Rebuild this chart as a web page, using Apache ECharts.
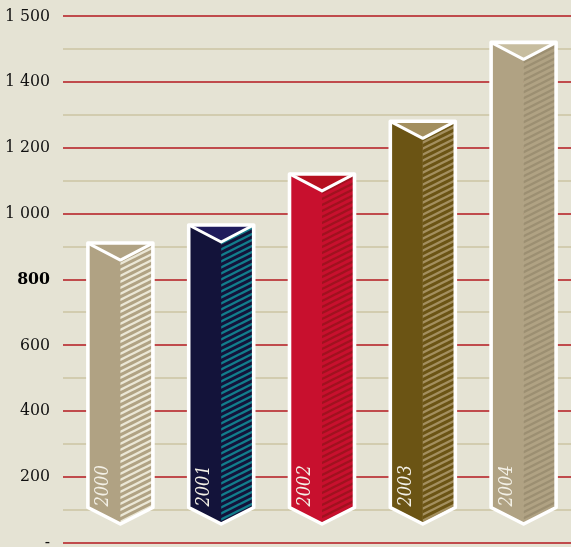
<!DOCTYPE html>
<html>
<head>
<meta charset="utf-8">
<script src="https://cdn.jsdelivr.net/npm/echarts@6/dist/echarts.min.js"></script>
<style>
  html, body { margin: 0; padding: 0; background: #e5e3d4; }
  #chart { width: 571px; height: 547px; }
</style>
</head>
<body>
<div id="chart"></div>
<script>
// Yearly totals, one prism per year
const years = ['2000', '2001', '2002', '2003', '2004'];
const values = [910, 965, 1120, 1280, 1520];

// Labels printed beside each 200-step gridline, bottom to top
const tickLabels = ['-', '200', '400', '600', '800', '1 000', '1 200', '1 400', '1 500'];

// Face colours per year: front, top, and the stripes on the shaded side
const frontColors = ['#b0a283', '#13133a', '#c8102e', '#6b5414', '#b0a283'];
const topColors = ['#b0a283', '#1f1b5c', '#b6101f', '#a38f5f', '#c7bd9f'];
const stripeColors = ['#ebe7d6', '#127d8c', '#a0121f', '#a38f5f', '#9c8f72'];

const labelFont = '"DejaVu Serif Condensed", "Liberation Serif", serif';

// Seamless diagonal stripe tile (period 6px vertically, slope 1:2)
function stripeTile(base, stripe) {
  const c = document.createElement('canvas');
  c.width = 12; c.height = 6;
  const g = c.getContext('2d');
  g.fillStyle = base;
  g.fillRect(0, 0, 12, 6);
  g.strokeStyle = stripe;
  g.lineWidth = 2.4;
  for (let k = -2; k <= 2; k++) {
    g.beginPath();
    g.moveTo(-4, 6 + 2 + 6 * k);
    g.lineTo(16, 6 - 8 + 6 * k);
    g.stroke();
  }
  return { image: c, repeat: 'repeat' };
}
const patterns = frontColors.map((c, i) => stripeTile(c, stripeColors[i]));

function renderPrism(params, api) {
  const i = api.value(0);
  const top = api.coord([i, api.value(1)]);
  const base = api.coord([i, 0]);
  const xc = top[0];
  const half = 32.5;
  const x0 = xc - half, x1 = xc + half;
  const yt = top[1];
  const yv = yt + 17;
  const yb = base[1] - 35;
  const ytip = base[1] - 18.5;
  return {
    type: 'group',
    children: [
      { type: 'polygon', shape: { points: [[xc - 0.5, yv], [x1, yt], [x1, yb], [xc - 0.5, ytip]] },
        style: { fill: patterns[i] } },
      { type: 'polygon', shape: { points: [[x0, yt], [xc, yv], [xc, ytip], [x0, yb]] },
        style: { fill: frontColors[i] } },
      { type: 'polygon', shape: { points: [[x0, yt], [x1, yt], [xc, yv]] },
        style: { fill: topColors[i] } },
      { type: 'polygon', shape: { points: [[x0, yt], [x1, yt], [x1, yb], [xc, ytip], [x0, yb]] },
        style: { fill: null, stroke: '#ffffff', lineWidth: 3.6, lineJoin: 'round' } },
      { type: 'polyline', shape: { points: [[x0, yt], [xc, yv], [x1, yt]] },
        style: { fill: null, stroke: '#ffffff', lineWidth: 3, lineJoin: 'round' } },
      { type: 'text', x: (x0 + xc) / 2 - 0.5, y: yb - 1, rotation: Math.PI / 2,
        style: { text: years[i], fill: '#f3f0e6', align: 'left', verticalAlign: 'middle',
          font: 'italic 18px ' + labelFont } }
    ]
  };
}

const chart = echarts.init(document.getElementById('chart'), null, { renderer: 'canvas' });
chart.setOption({
  backgroundColor: '#e5e3d4',
  animation: false,
  grid: [
    { left: 63, right: 0, top: 16, bottom: 4.5, containLabel: false, outerBoundsMode: 'none' },
    { left: 70, right: -3, top: 16, bottom: 4.5, containLabel: false, outerBoundsMode: 'none' }
  ],
  xAxis: [
    { gridIndex: 0, type: 'value', min: 0, max: 1, show: false },
    { gridIndex: 1, type: 'category', data: years, show: false }
  ],
  yAxis: [
    {
      gridIndex: 0, type: 'value', min: 0, max: 1600, interval: 200,
      axisLine: { show: false }, axisTick: { show: false },
      axisLabel: {
        margin: 13,
        fontFamily: labelFont, fontSize: 17.5, color: '#111',
        formatter: v => {
          const t = tickLabels[Math.round(v / 200)];
          return v === 800 ? '{b|' + t + '}' : t;
        },
        rich: { b: { fontFamily: labelFont, fontSize: 17.5, fontWeight: 'bold', color: '#000' } }
      },
      splitLine: { show: true, lineStyle: { color: '#b3191f', width: 1.5 } },
      minorTick: { show: false, splitNumber: 2 },
      minorSplitLine: { show: true, lineStyle: { color: '#cbc5a3', width: 1.5 } }
    },
    { gridIndex: 1, type: 'value', min: 0, max: 1600, interval: 200, show: false }
  ],
  series: [{
    type: 'custom',
    xAxisIndex: 1, yAxisIndex: 1,
    renderItem: renderPrism,
    encode: { x: 0, y: 1 },
    data: years.map((y, i) => [i, values[i]])
  }]
});
</script>
</body>
</html>
